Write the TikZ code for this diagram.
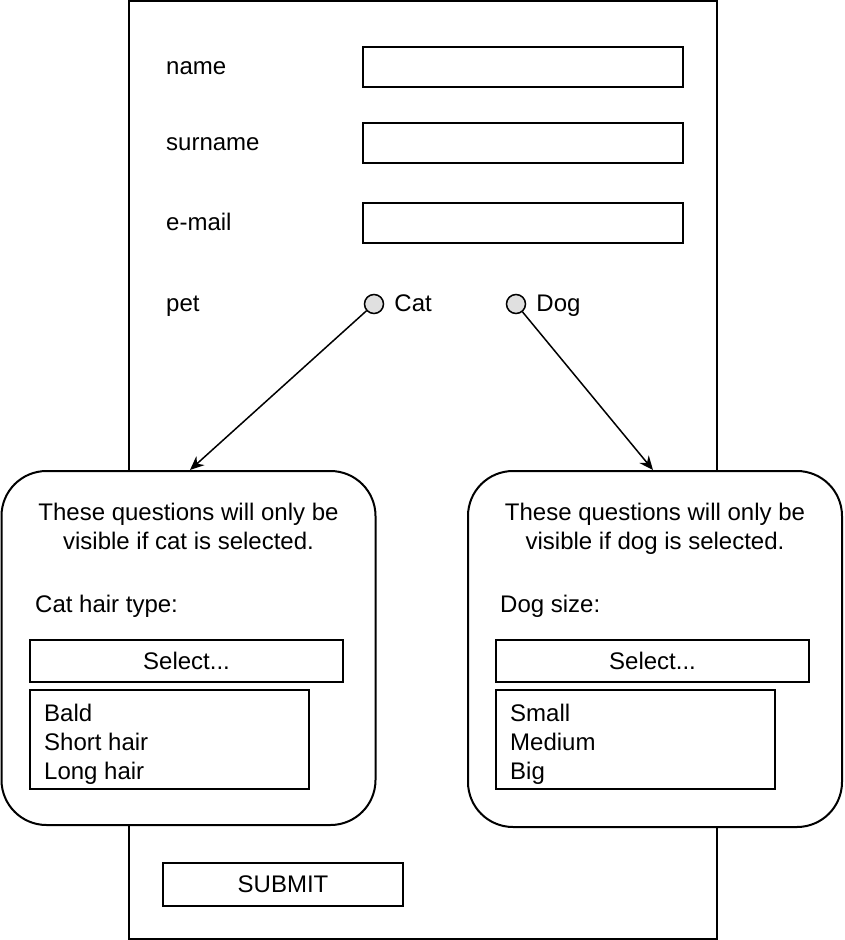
\documentclass[tikz,border=0pt]{standalone}
\usepackage{fontspec}
\setmainfont{Liberation Sans}
\usetikzlibrary{arrows.meta,positioning}
\begin{document}
\begin{tikzpicture}[x=1pt,y=-1pt]
         \tikzset{every node/.style={font=\fontsize{24}{29}\selectfont}}
         \tikzset{lbl/.style={anchor=west,inner sep=0pt,text height=0.905em,text depth=0.212em,yshift=-4pt}}
         \tikzset{items/.style={anchor=west,inner sep=0pt,align=left}}
         \tikzset{field/.style={draw,line width=2pt,minimum width=#1,minimum height=40pt,inner sep=0pt}}
         \tikzset{radio/.style={circle,draw,line width=1.5pt,fill=black!12,minimum size=19pt,inner sep=0pt}}
         \tikzset{panel/.style={draw,line width=2pt,rounded corners=45pt,fill=white,minimum width=374pt,minimum height=#1,inner sep=0pt}}
         \tikzset{link/.style={line width=1.5pt,-{Stealth[length=14pt,width=12pt]}}}
         \useasboundingbox (0,0) rectangle (844,940);
         % the form
         \draw[line width=2pt] (129,1) rectangle (717,939);
         \node[lbl] (name) at (166,67) {name};
         \node[field=320pt] (namefield) at (523,67) {};
         \node[lbl] (surname) at (166,143) {surname};
         \node[field=320pt] (surnamefield) at (523,143) {};
         \node[lbl] (email) at (166,223) {e-mail};
         \node[field=320pt] (emailfield) at (523,223) {};
         \node[lbl] (pet) at (166,304) {pet};
         \node[radio] (catradio) at (374,304) {};
         \node[lbl,right=10pt of catradio] (cat) {Cat};
         \node[radio] (dogradio) at (516,304) {};
         \node[lbl,right=10pt of dogradio] (dog) {Dog};
         % cat questions
         \node[panel=354pt] (catpanel) at (188.5,648) {};
         \node[align=center] (catnote) at (188.5,526) {These questions will only be\\visible if cat is selected.};
         \node[lbl] (cathair) at (35,605) {Cat hair type:};
         \node[field=313pt,minimum height=42pt] (catselect) at (186.5,661) {Select...};
         \node[field=279pt,minimum height=99pt] (catlist) at (169.5,739.5) {};
         \node[items] (catitems) at (44,744) {Bald\\Short hair\\Long hair};
         % dog questions
         \node[panel=356pt] (dogpanel) at (655,649) {};
         \node[align=center] (dognote) at (655,528.5) {These questions will only be\\visible if dog is selected.};
         \node[lbl] (dogsize) at (500,605) {Dog size:};
         \node[field=313pt,minimum height=42pt] (dogselect) at (652.5,661) {Select...};
         \node[field=279pt,minimum height=99pt] (doglist) at (635.5,739.5) {};
         \node[items] (dogitems) at (510,744) {Small\\Medium\\Big};
         % submit
         \node[field=240pt,minimum height=43pt] (submit) at (283,884.5) {SUBMIT};
         % connectors
         \coordinate (catend) at (190,470);
         \coordinate (dogend) at (653,470);
         \draw[link] (catradio) -- (catend);
         \draw[link] (dogradio) -- (dogend);
      \end{tikzpicture}
\end{document}
